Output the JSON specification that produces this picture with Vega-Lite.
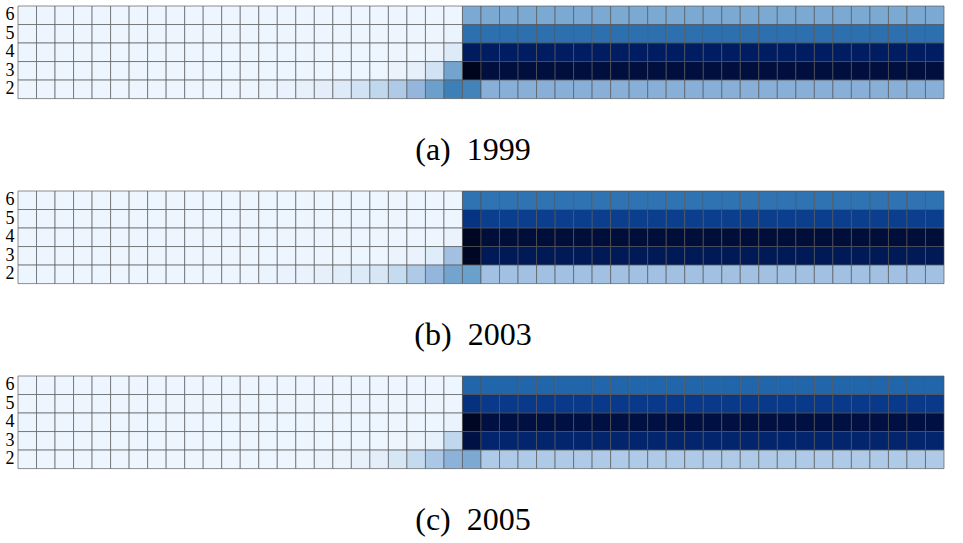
{
  "$schema": "https://vega.github.io/schema/vega-lite/v6.json",
  "background": "white",
  "padding": {"left": 5, "top": 5, "right": 5, "bottom": 5},
  "config": {
    "view": {"stroke": null},
    "font": "Liberation Serif",
    "concat": {"spacing": 23}
  },
  "datasets": {
    "d1999": [
      {"r": 6, "c": [0,1,2,3,4,5,6,7,8,9,10,11,12,13,14,15,16,17,18,19,20,21,22,23,24,25,26,27,28,29,30,31,32,33,34,35,36,37,38,39,40,41,42,43,44,45,46,47,48,49],
       "v": [1,1,1,1,1,1,1,1,1,1,1,1,1,1,1,1,1,1,1,1,1,1,1,1,36,36,36,36,36,36,36,36,36,36,36,36,36,36,36,36,36,36,36,36,36,36,36,36,36,36]},
      {"r": 5, "c": [0,1,2,3,4,5,6,7,8,9,10,11,12,13,14,15,16,17,18,19,20,21,22,23,24,25,26,27,28,29,30,31,32,33,34,35,36,37,38,39,40,41,42,43,44,45,46,47,48,49],
       "v": [1,1,1,1,1,1,1,1,1,1,1,1,1,1,1,1,1,1,1,1,1,1,1,2,56,56,56,56,56,56,56,56,56,56,56,56,56,56,56,56,56,56,56,56,56,56,56,56,56,56]},
      {"r": 4, "c": [0,1,2,3,4,5,6,7,8,9,10,11,12,13,14,15,16,17,18,19,20,21,22,23,24,25,26,27,28,29,30,31,32,33,34,35,36,37,38,39,40,41,42,43,44,45,46,47,48,49],
       "v": [1,1,1,1,1,1,1,1,1,1,1,1,1,1,1,1,1,1,1,1,1,1,2,9,81,80,80,80,80,80,80,80,80,80,80,80,80,80,80,80,80,80,80,80,80,80,80,80,80,80]},
      {"r": 3, "c": [0,1,2,3,4,5,6,7,8,9,10,11,12,13,14,15,16,17,18,19,20,21,22,23,24,25,26,27,28,29,30,31,32,33,34,35,36,37,38,39,40,41,42,43,44,45,46,47,48,49],
       "v": [1,1,1,1,1,1,1,1,1,1,1,1,1,1,1,1,1,1,1,1,2,5,14,38,99,90,90,90,90,90,90,90,90,90,90,90,90,90,90,90,90,90,90,90,90,90,90,90,90,90]},
      {"r": 2, "c": [0,1,2,3,4,5,6,7,8,9,10,11,12,13,14,15,16,17,18,19,20,21,22,23,24,25,26,27,28,29,30,31,32,33,34,35,36,37,38,39,40,41,42,43,44,45,46,47,48,49],
       "v": [1,1,1,1,1,1,1,1,1,1,1,1,1,2,3,4,6,9,14,20,24,30,40,50,49,33,33,33,33,33,33,33,33,33,33,33,33,33,33,33,33,33,33,33,33,33,33,33,33,33]}
    ],
    "d2003": [
      {"r": 6, "c": [0,1,2,3,4,5,6,7,8,9,10,11,12,13,14,15,16,17,18,19,20,21,22,23,24,25,26,27,28,29,30,31,32,33,34,35,36,37,38,39,40,41,42,43,44,45,46,47,48,49],
       "v": [1,1,1,1,1,1,1,1,1,1,1,1,1,1,1,1,1,1,1,1,1,1,1,1,55,55,55,55,55,55,55,55,55,55,55,55,55,55,55,55,55,55,55,55,55,55,55,55,55,55]},
      {"r": 5, "c": [0,1,2,3,4,5,6,7,8,9,10,11,12,13,14,15,16,17,18,19,20,21,22,23,24,25,26,27,28,29,30,31,32,33,34,35,36,37,38,39,40,41,42,43,44,45,46,47,48,49],
       "v": [1,1,1,1,1,1,1,1,1,1,1,1,1,1,1,1,1,1,1,1,1,1,1,1,72,69,69,69,69,69,69,69,69,69,69,69,69,69,69,69,69,69,69,69,69,69,69,69,69,69]},
      {"r": 4, "c": [0,1,2,3,4,5,6,7,8,9,10,11,12,13,14,15,16,17,18,19,20,21,22,23,24,25,26,27,28,29,30,31,32,33,34,35,36,37,38,39,40,41,42,43,44,45,46,47,48,49],
       "v": [1,1,1,1,1,1,1,1,1,1,1,1,1,1,1,1,1,1,1,1,1,1,1,3,97,91,91,91,91,91,91,91,91,91,91,91,91,91,91,91,91,91,91,91,91,91,91,91,91,91]},
      {"r": 3, "c": [0,1,2,3,4,5,6,7,8,9,10,11,12,13,14,15,16,17,18,19,20,21,22,23,24,25,26,27,28,29,30,31,32,33,34,35,36,37,38,39,40,41,42,43,44,45,46,47,48,49],
       "v": [1,1,1,1,1,1,1,1,1,1,1,1,1,1,1,1,1,1,1,1,2,3,8,27,97,83,83,83,83,83,83,83,83,83,83,83,83,83,83,83,83,83,83,83,83,83,83,83,83,83]},
      {"r": 2, "c": [0,1,2,3,4,5,6,7,8,9,10,11,12,13,14,15,16,17,18,19,20,21,22,23,24,25,26,27,28,29,30,31,32,33,34,35,36,37,38,39,40,41,42,43,44,45,46,47,48,49],
       "v": [1,1,1,1,1,1,1,1,1,1,1,1,1,2,3,3,5,7,9,12,18,24,30,38,40,27,27,27,27,27,27,27,27,27,27,27,27,27,27,27,27,27,27,27,27,27,27,27,27,27]}
    ],
    "d2005": [
      {"r": 6, "c": [0,1,2,3,4,5,6,7,8,9,10,11,12,13,14,15,16,17,18,19,20,21,22,23,24,25,26,27,28,29,30,31,32,33,34,35,36,37,38,39,40,41,42,43,44,45,46,47,48,49],
       "v": [1,1,1,1,1,1,1,1,1,1,1,1,1,1,1,1,1,1,1,1,1,1,1,1,60,60,60,60,60,60,60,60,60,60,60,60,60,60,60,60,60,60,60,60,60,60,60,60,60,60]},
      {"r": 5, "c": [0,1,2,3,4,5,6,7,8,9,10,11,12,13,14,15,16,17,18,19,20,21,22,23,24,25,26,27,28,29,30,31,32,33,34,35,36,37,38,39,40,41,42,43,44,45,46,47,48,49],
       "v": [1,1,1,1,1,1,1,1,1,1,1,1,1,1,1,1,1,1,1,1,1,1,1,1,73,70,70,70,70,70,70,70,70,70,70,70,70,70,70,70,70,70,70,70,70,70,70,70,70,70]},
      {"r": 4, "c": [0,1,2,3,4,5,6,7,8,9,10,11,12,13,14,15,16,17,18,19,20,21,22,23,24,25,26,27,28,29,30,31,32,33,34,35,36,37,38,39,40,41,42,43,44,45,46,47,48,49],
       "v": [1,1,1,1,1,1,1,1,1,1,1,1,1,1,1,1,1,1,1,1,1,1,1,3,97,89,89,89,89,89,89,89,89,89,89,89,89,89,89,89,89,89,89,89,89,89,89,89,89,89]},
      {"r": 3, "c": [0,1,2,3,4,5,6,7,8,9,10,11,12,13,14,15,16,17,18,19,20,21,22,23,24,25,26,27,28,29,30,31,32,33,34,35,36,37,38,39,40,41,42,43,44,45,46,47,48,49],
       "v": [1,1,1,1,1,1,1,1,1,1,1,1,1,1,1,1,1,1,1,1,1,2,4,20,88,77,77,77,77,77,77,77,77,77,77,77,77,77,77,77,77,77,77,77,77,77,77,77,77,77]},
      {"r": 2, "c": [0,1,2,3,4,5,6,7,8,9,10,11,12,13,14,15,16,17,18,19,20,21,22,23,24,25,26,27,28,29,30,31,32,33,34,35,36,37,38,39,40,41,42,43,44,45,46,47,48,49],
       "v": [1,1,1,1,1,1,1,1,1,1,1,1,1,1,1,1,2,2,4,6,12,19,25,32,36,24,24,24,24,24,24,24,24,24,24,24,24,24,24,24,24,24,24,24,24,24,24,24,24,24]}
    ]
  },
  "vconcat": [
    {
      "width": 926, "height": 92.6,
      "title": {"text": "(a)\u00a0\u00a01999", "orient": "bottom", "fontSize": 32, "font": "Liberation Serif", "fontWeight": "normal", "color": "black", "offset": 36, "dx": -8},
      "data": {"name": "d1999"},
      "transform": [{"flatten": ["c", "v"]}],
      "mark": {"type": "rect", "stroke": "#555555", "strokeOpacity": 0.65, "strokeWidth": 1},
      "encoding": {
        "x": {"field": "c", "type": "ordinal", "axis": null, "scale": {"paddingInner": 0, "paddingOuter": 0}},
        "y": {"field": "r", "type": "ordinal", "sort": "descending", "scale": {"paddingInner": 0, "paddingOuter": 0},
              "axis": {"title": null, "ticks": false, "domain": false, "labelFont": "Liberation Serif", "labelFontSize": 18, "labelColor": "black", "labelPadding": 4, "labelOverlap": false}},
        "color": {"field": "v", "type": "quantitative", "legend": null,
                  "scale": {"domain": [0,10,20,30,40,50,60,70,80,90,100],
                            "range": ["#eff6ff","#dbe9f7","#c0d8ee","#94b6dd","#6aa0ca","#3d80b8","#2166ab","#08398a","#001d62","#000f3e","#00041a"],
                            "interpolate": "rgb"}}
      }
    },
    {
      "width": 926, "height": 92.6,
      "title": {"text": "(b)\u00a0\u00a02003", "orient": "bottom", "fontSize": 32, "font": "Liberation Serif", "fontWeight": "normal", "color": "black", "offset": 36, "dx": -8},
      "data": {"name": "d2003"},
      "transform": [{"flatten": ["c", "v"]}],
      "mark": {"type": "rect", "stroke": "#555555", "strokeOpacity": 0.65, "strokeWidth": 1},
      "encoding": {
        "x": {"field": "c", "type": "ordinal", "axis": null, "scale": {"paddingInner": 0, "paddingOuter": 0}},
        "y": {"field": "r", "type": "ordinal", "sort": "descending", "scale": {"paddingInner": 0, "paddingOuter": 0},
              "axis": {"title": null, "ticks": false, "domain": false, "labelFont": "Liberation Serif", "labelFontSize": 18, "labelColor": "black", "labelPadding": 4, "labelOverlap": false}},
        "color": {"field": "v", "type": "quantitative", "legend": null,
                  "scale": {"domain": [0,10,20,30,40,50,60,70,80,90,100],
                            "range": ["#eff6ff","#dbe9f7","#c0d8ee","#94b6dd","#6aa0ca","#3d80b8","#2166ab","#08398a","#001d62","#000f3e","#00041a"],
                            "interpolate": "rgb"}}
      }
    },
    {
      "width": 926, "height": 92.6,
      "title": {"text": "(c)\u00a0\u00a02005", "orient": "bottom", "fontSize": 32, "font": "Liberation Serif", "fontWeight": "normal", "color": "black", "offset": 36, "dx": -8},
      "data": {"name": "d2005"},
      "transform": [{"flatten": ["c", "v"]}],
      "mark": {"type": "rect", "stroke": "#555555", "strokeOpacity": 0.65, "strokeWidth": 1},
      "encoding": {
        "x": {"field": "c", "type": "ordinal", "axis": null, "scale": {"paddingInner": 0, "paddingOuter": 0}},
        "y": {"field": "r", "type": "ordinal", "sort": "descending", "scale": {"paddingInner": 0, "paddingOuter": 0},
              "axis": {"title": null, "ticks": false, "domain": false, "labelFont": "Liberation Serif", "labelFontSize": 18, "labelColor": "black", "labelPadding": 4, "labelOverlap": false}},
        "color": {"field": "v", "type": "quantitative", "legend": null,
                  "scale": {"domain": [0,10,20,30,40,50,60,70,80,90,100],
                            "range": ["#eff6ff","#dbe9f7","#c0d8ee","#94b6dd","#6aa0ca","#3d80b8","#2166ab","#08398a","#001d62","#000f3e","#00041a"],
                            "interpolate": "rgb"}}
      }
    }
  ]
}
